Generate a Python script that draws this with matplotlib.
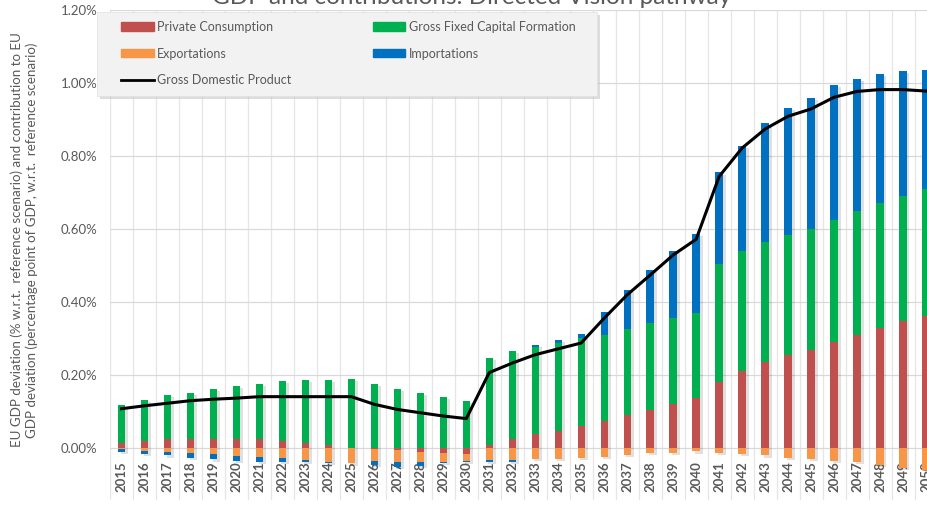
import matplotlib.pyplot as plt
import matplotlib.transforms as mtransforms
import numpy as np
from matplotlib.lines import Line2D
from matplotlib.patches import Patch, Rectangle

plt.rcParams["font.family"] = ["Lato", "DejaVu Sans"]

years = list(range(2015, 2051))

# contributions to GDP deviation, percentage points
private_consumption = [0.013, 0.020, 0.026, 0.026, 0.026, 0.026, 0.024, 0.020, 0.013, 0.008,
                       0.001, -0.003, -0.006, -0.010, -0.012, -0.016, 0.010, 0.026, 0.040, 0.048,
                       0.062, 0.074, 0.090, 0.105, 0.121, 0.137, 0.180, 0.210, 0.235, 0.254,
                       0.269, 0.291, 0.309, 0.328, 0.347, 0.363]
gross_fixed_capital = [0.105, 0.113, 0.120, 0.126, 0.136, 0.145, 0.153, 0.164, 0.174, 0.179,
                       0.189, 0.175, 0.161, 0.152, 0.140, 0.130, 0.236, 0.241, 0.238, 0.240,
                       0.239, 0.236, 0.236, 0.237, 0.236, 0.234, 0.324, 0.329, 0.329, 0.330,
                       0.331, 0.334, 0.340, 0.343, 0.343, 0.346]
exportations = [-0.002, -0.007, -0.011, -0.013, -0.017, -0.021, -0.024, -0.028, -0.032, -0.037,
                -0.040, -0.032, -0.031, -0.027, -0.025, -0.019, -0.032, -0.032, -0.029, -0.029,
                -0.026, -0.023, -0.018, -0.014, -0.014, -0.009, -0.012, -0.016, -0.020, -0.026,
                -0.029, -0.035, -0.039, -0.046, -0.055, -0.060]
importations = [-0.008, -0.010, -0.009, -0.015, -0.014, -0.014, -0.015, -0.011, -0.006, -0.003,
                -0.002, -0.010, -0.014, -0.012, -0.004, -0.003, -0.007, -0.007, 0.004, 0.009,
                0.012, 0.062, 0.107, 0.147, 0.182, 0.215, 0.251, 0.288, 0.327, 0.348,
                0.359, 0.369, 0.363, 0.354, 0.343, 0.327]
gdp = [0.108, 0.116, 0.123, 0.130, 0.134, 0.137, 0.141, 0.141, 0.141, 0.141,
       0.141, 0.120, 0.106, 0.097, 0.088, 0.081, 0.207, 0.233, 0.256, 0.272,
       0.288, 0.356, 0.420, 0.474, 0.529, 0.572, 0.744, 0.822, 0.874, 0.909,
       0.929, 0.961, 0.977, 0.982, 0.982, 0.978]

series = [
    ("Private Consumption", private_consumption, "#C0504D"),
    ("Gross Fixed Capital Formation", gross_fixed_capital, "#00B050"),
    ("Exportations", exportations, "#F79646"),
    ("Importations", importations, "#0070C0"),
]

W, H = 927, 513
fig = plt.figure(figsize=(W / 100, H / 100), dpi=100)
ax = fig.add_axes([110 / W, 1 - 500 / H, 827.5 / W, 490 / H])
ax.set_axisbelow(True)

x = np.arange(len(years))
width = 0.32
pos_base = np.zeros(len(years))
neg_base = np.zeros(len(years))
for name, vals, color in series:
    v = np.array(vals)
    bottom = np.where(v >= 0, pos_base, neg_base)
    ax.bar(x, v, width, bottom=bottom, color=color, zorder=2)
    pos_base += np.clip(v, 0, None)
    neg_base += np.clip(v, None, 0)

# soft drop shadow behind each stack
shadow_tr = ax.transData + mtransforms.ScaledTranslation(2 / 72, -1.5 / 72, fig.dpi_scale_trans)
shadows = ax.bar(x, pos_base - neg_base, width, bottom=neg_base, color="black", alpha=0.12, zorder=1.5)
for s in shadows:
    s.set_transform(shadow_tr)

ax.plot(x, gdp, color="black", lw=2.2, zorder=3, solid_joinstyle="round")

ax.set_xlim(-0.5, len(years) - 0.5)
ax.set_ylim(-0.142, 1.2)
ax.set_yticks(np.arange(0, 1.21, 0.2))
ax.set_yticklabels([f"{t:.2f}%" for t in np.arange(0, 1.21, 0.2)])
ax.set_xticks(x)
ax.set_xticklabels([str(y) for y in years], rotation=90, fontweight="bold")
ax.set_xticks(np.arange(-0.5, len(years), 1), minor=True)
ax.tick_params(axis="x", which="both", length=0, pad=-28, labelsize=9.5, labelcolor="#595959")
ax.tick_params(axis="y", length=0, pad=9, labelsize=9.5, labelcolor="#595959")
ax.grid(axis="y", which="major", color="#d9d9d9", lw=0.9)
ax.grid(axis="x", which="minor", color="#e6e6e6", lw=0.9)
for sp in ax.spines.values():
    sp.set_visible(False)

fig.text(24 / W, 1 - 240 / H,
         "EU GDP deviation (% w.r.t.  reference scenario) and contribution to EU\n"
         "GDP deviation (percentage point of GDP, w.r.t.  reference scenario)",
         rotation=90, ha="center", va="center", multialignment="center",
         fontsize=9.6, color="#595959", linespacing=1.2)

fig.text(472 / W, 1 - 4 / H, "GDP and contributions: Directed Vision pathway",
         ha="center", va="baseline", fontsize=17.5, color="#595959")

# legend panel
fig.add_artist(Rectangle((100 / W, 1 - 99 / H), 500 / W, 84 / H, transform=fig.transFigure,
                         facecolor="#bdbdbd", edgecolor="none", alpha=0.5, zorder=4))
fig.add_artist(Rectangle((97 / W, 1 - 96 / H), 500 / W, 84 / H, transform=fig.transFigure,
                         facecolor="#f2f2f2", edgecolor="#e0e0e0", lw=0.5, zorder=4.5))
handles = [Patch(color=series[0][2]), Patch(color=series[2][2]), Line2D([], [], color="black", lw=2),
           Patch(color=series[1][2]), Patch(color=series[3][2])]
labels = [series[0][0], series[2][0], "Gross Domestic Product", series[1][0], series[3][0]]
fig.legend(handles, labels, loc="upper left", bbox_to_anchor=(121 / W, 1 - 21 / H),
           bbox_transform=fig.transFigure, ncol=2, frameon=False, borderpad=0, borderaxespad=0,
           handlelength=2.6, handleheight=0.65, handletextpad=0.3, columnspacing=6.5,
           labelspacing=1.17, fontsize=9, labelcolor="#595959")

fig.savefig("out.png", dpi=100)
